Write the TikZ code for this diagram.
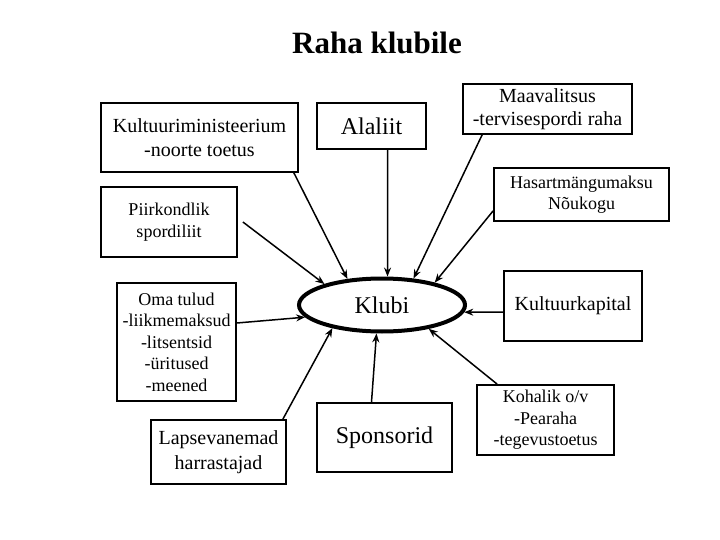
\documentclass[tikz,border=0pt]{standalone}
\usepackage{fontspec}
\setmainfont{Liberation Serif}
\usetikzlibrary{arrows.meta,shapes.geometric}

\tikzset{
  kast/.style={draw, line width=1.8pt, align=center, inner sep=0pt},
  vaike/.style={font=\fontsize{18}{21.5}\selectfont},
  keskm/.style={font=\fontsize{20}{23.5}\selectfont},
  suur/.style={font=\fontsize{24}{28}\selectfont},
  noolt/.style={-{Stealth[length=9pt,width=7pt]}, line width=1.5pt},
}

\begin{document}
\begin{tikzpicture}[x=1pt,y=-1pt]
   \useasboundingbox (0,0) rectangle (720,540);
   \node[font=\bfseries\fontsize{31}{35}\selectfont] (pealkiri) at (377,43) {Raha klubile};
   \node[draw, ellipse, line width=4pt, minimum width=166pt, minimum height=53pt, suur] (klubi) at (382,305) {Klubi};

   % ylemine rida
   \node[kast, keskm, minimum width=197pt, minimum height=69pt] (kmin) at (199.5,137.5) {Kultuuriministeerium\\-noorte toetus};
   \node[kast, suur, minimum width=109pt, minimum height=46pt] (alaliit) at (371.5,126) {Alaliit};
   \node[kast, keskm, minimum width=169pt, minimum height=50pt] (maav) at (547.5,109) {Maavalitsus\\-tervisespordi raha};
   \node[kast, vaike, minimum width=175pt, minimum height=53pt] (hasart) at (581.5,194.5) {Hasartmängumaksu\\Nõukogu};
   \node[kast, vaike, minimum width=136pt, minimum height=70pt] (piirk) at (169,222) {Piirkondlik\\spordiliit};

   % keskmine ja alumine rida
   \node[kast, vaike, minimum width=119pt, minimum height=118pt] (oma) at (176.5,342) {Oma tulud\\-liikmemaksud\\-litsentsid\\-üritused\\-meened};
   \node[kast, font=\fontsize{20}{25}\selectfont, minimum width=135pt, minimum height=64pt] (lapse) at (218.5,452) {Lapsevanemad\\harrastajad};
   \node[kast, suur, minimum width=135pt, minimum height=69pt] (spons) at (384.5,437.5) {Sponsorid};
   \node[kast, keskm, minimum width=138pt, minimum height=70pt] (kkap) at (573,306) {Kultuurkapital};
   \node[kast, vaike, minimum width=137pt, minimum height=70pt] (kohal) at (545.5,420) {Kohalik o/v\\-Pearaha\\-tegevustoetus};

   % nooled klubi poole
   \draw[noolt] ([xshift=-5pt]kmin.south east) -- (klubi.143);
   \draw[noolt] ([xshift=5pt]piirk.east) -- (klubi.160);
   \draw[noolt] ([xshift=16pt]alaliit.south) -- (klubi.79);
   \draw[noolt] ([xshift=20pt]maav.south west) -- (klubi.40);
   \draw[noolt] ([yshift=11pt]hasart.south west) -- (klubi.23);
   \draw[noolt] ([yshift=19pt]oma.east) -- (klubi.189);
   \draw[noolt] ([xshift=-4pt]lapse.north east) -- (klubi.205);
   \draw[noolt] ([xshift=-13pt]spons.north) -- (klubi.259);
   \draw[noolt] ([yshift=-6pt]kkap.west) -- (klubi.355);
   \draw[noolt] ([xshift=21pt]kohal.north west) -- (klubi.333);
\end{tikzpicture}
\end{document}
